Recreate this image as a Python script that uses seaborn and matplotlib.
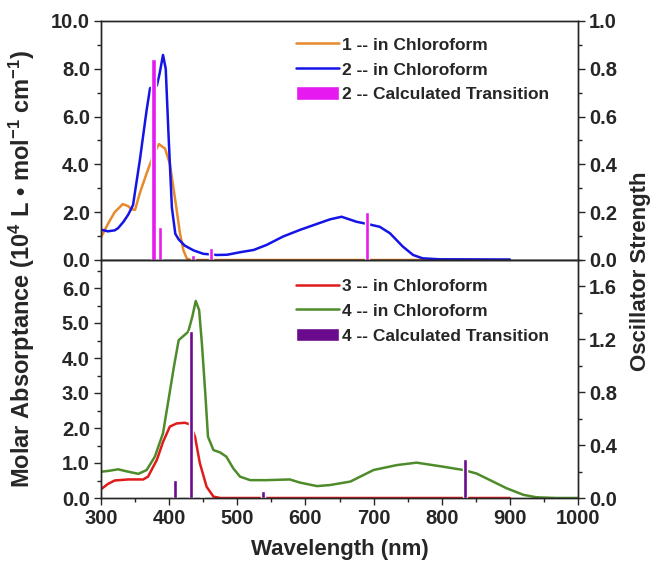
import matplotlib
matplotlib.use('agg')
import matplotlib.pyplot as plt
from matplotlib.ticker import MultipleLocator
import seaborn as sns

# compound 1 / 2 (top panel)
wl_1 = [300, 310, 320, 332, 340, 345, 350, 357, 367, 377, 385, 394, 401, 409, 416, 421, 426, 432, 450, 900]
abs_1 = [0.95, 1.5, 2.0, 2.34, 2.25, 2.12, 2.1, 2.8, 3.63, 4.4, 4.85, 4.66, 4.03, 2.5, 1.1, 0.4, 0.06, 0.0, 0.0, 0.0]

wl_2 = [300, 310, 320, 325, 333, 340, 347, 357, 367, 372, 377, 382, 386, 391, 395, 399, 404, 409, 414, 423,
        436, 450, 470, 485, 505, 524, 543, 567, 592, 616, 636, 653, 675, 692, 709, 724, 743, 758, 772, 797, 900]
abs_2 = [1.27, 1.2, 1.24, 1.33, 1.6, 1.9, 2.3, 4.18, 6.28, 7.19, 7.25, 7.3, 7.8, 8.58, 8.0, 5.3, 2.2, 1.1, 0.86, 0.6,
         0.4, 0.26, 0.21, 0.22, 0.33, 0.42, 0.63, 0.98, 1.26, 1.5, 1.7, 1.81, 1.6, 1.5, 1.39, 1.12, 0.56, 0.21, 0.07, 0.03, 0.02]

calc_2_wl = [377, 386, 435, 461, 691]
calc_2_f = [0.84, 0.14, 0.02, 0.05, 0.2]

# compound 3 / 4 (bottom panel)
wl_3 = [300, 310, 320, 340, 362, 369, 382, 391, 401, 411, 423, 431, 438, 445, 455, 465, 475, 900]
abs_3 = [0.25, 0.4, 0.5, 0.53, 0.53, 0.61, 1.09, 1.6, 2.04, 2.13, 2.15, 2.1, 1.75, 1.0, 0.32, 0.04, 0.0, 0.0]

wl_4 = [300, 313, 325, 338, 355, 367, 379, 391, 399, 407, 414, 421, 428, 434, 439, 444, 448, 453, 457, 465,
        475, 484, 494, 504, 519, 543, 577, 592, 617, 636, 666, 700, 734, 763, 797, 832, 851, 871, 895, 920,
        939, 968, 1000]
abs_4 = [0.75, 0.78, 0.82, 0.76, 0.69, 0.8, 1.18, 1.85, 2.8, 3.75, 4.51, 4.63, 4.75, 5.18, 5.63, 5.37, 4.43, 3.0, 1.75, 1.37,
         1.3, 1.18, 0.85, 0.61, 0.51, 0.51, 0.53, 0.44, 0.34, 0.37, 0.47, 0.8, 0.94, 1.01, 0.91, 0.8, 0.7, 0.51, 0.28, 0.09,
         0.02, 0.0, 0.0]

calc_4_wl = [408, 432, 448, 538, 834]
calc_4_f = [0.136, 1.26, 0.01, 0.055, 0.294]

sns.set_style('ticks')
plt.rcParams['font.family'] = ['Liberation Sans', 'DejaVu Sans']
plt.rcParams['font.weight'] = 'bold'
plt.rcParams['axes.labelweight'] = 'bold'
plt.rcParams['mathtext.fontset'] = 'custom'
plt.rcParams['mathtext.rm'] = 'Liberation Sans:bold'
plt.rcParams['mathtext.default'] = 'rm'

fig = plt.figure(figsize=(6.56, 5.66), dpi=100)
L, R = 101 / 656, 578 / 656
ax1 = fig.add_axes([L, 1 - 260 / 566, R - L, 239 / 566])
ax2 = fig.add_axes([L, 1 - 498 / 566, R - L, 238 / 566])
tw1 = ax1.twinx()
tw2 = ax2.twinx()

C_OR, C_BL, C_MG = '#E8892C', '#1414E6', '#E619F0'
C_RD, C_GR, C_PU = '#E01B1B', '#4E8B2A', '#6A0A8C'
LW = 1.8

sns.lineplot(x=wl_1, y=abs_1, ax=ax1, color=C_OR, lw=LW, label='1 -- in Chloroform', legend=False)
sns.lineplot(x=wl_2, y=abs_2, ax=ax1, color=C_BL, lw=LW, label='2 -- in Chloroform', legend=False)
tw1.bar(calc_2_wl, calc_2_f, width=6, color=C_MG, label='2 -- Calculated Transition')

sns.lineplot(x=wl_3, y=abs_3, ax=ax2, color=C_RD, lw=LW, label='3 -- in Chloroform', legend=False)
sns.lineplot(x=wl_4, y=abs_4, ax=ax2, color=C_GR, lw=LW, label='4 -- in Chloroform', legend=False)
tw2.bar(calc_4_wl, calc_4_f, width=6, color=C_PU, label='4 -- Calculated Transition')

for ax, tw, ymax, ystep, yminor, fmax, fstep, fminor in [
        (ax1, tw1, 10.0, 2.0, 1.0, 1.0, 0.2, 0.1),
        (ax2, tw2, 6.8, 1.0, 0.5, 1.8, 0.4, 0.2)]:
    ax.set_xlim(300, 1000)
    ax.set_ylim(0, ymax)
    tw.set_ylim(0, fmax)
    ax.yaxis.set_major_locator(MultipleLocator(ystep))
    ax.yaxis.set_minor_locator(MultipleLocator(yminor))
    tw.yaxis.set_major_locator(MultipleLocator(fstep))
    tw.yaxis.set_minor_locator(MultipleLocator(fminor))
    ax.yaxis.set_major_formatter('{x:.1f}')
    tw.yaxis.set_major_formatter('{x:.1f}')
    ax.xaxis.set_major_locator(MultipleLocator(100))
    ax.xaxis.set_minor_locator(MultipleLocator(50))
    for a in (ax, tw):
        a.tick_params(which='major', direction='out', length=5, width=1, labelsize=14.5, pad=3)
        a.tick_params(which='minor', direction='out', length=3, width=1)
        for s in a.spines.values():
            s.set_linewidth(1)
    ax.set_xlabel('')
    ax.set_ylabel('')
    tw.set_ylabel('')

ax1.tick_params(axis='x', which='both', bottom=False, labelbottom=False)

for ax, tw, ytop in [(ax1, tw1, 0.962), (ax2, tw2, 0.952)]:
    h1, l1 = ax.get_legend_handles_labels()
    h2, l2 = tw.get_legend_handles_labels()
    tw.legend(h1 + h2, l1 + l2, loc='upper left', bbox_to_anchor=(0.395, ytop),
              frameon=False, fontsize=12.5, handlelength=2.45, handleheight=0.85,
              labelspacing=0.5, handletextpad=0.2, borderaxespad=0.0)

ax2.set_xlabel('Wavelength (nm)', fontsize=16, fontweight='bold', labelpad=8)
fig.text(0.034, 0.525, 'Molar Absorptance (10$^{4}$ L \u2022 mol$^{-1}$ cm$^{-1}$)',
         rotation=90, ha='center', va='center', fontsize=17, fontweight='bold')
fig.text(0.976, 0.52, 'Oscillator Strength', rotation=90, ha='center', va='center',
         fontsize=16, fontweight='bold')

fig.savefig('out.png', dpi=100)
